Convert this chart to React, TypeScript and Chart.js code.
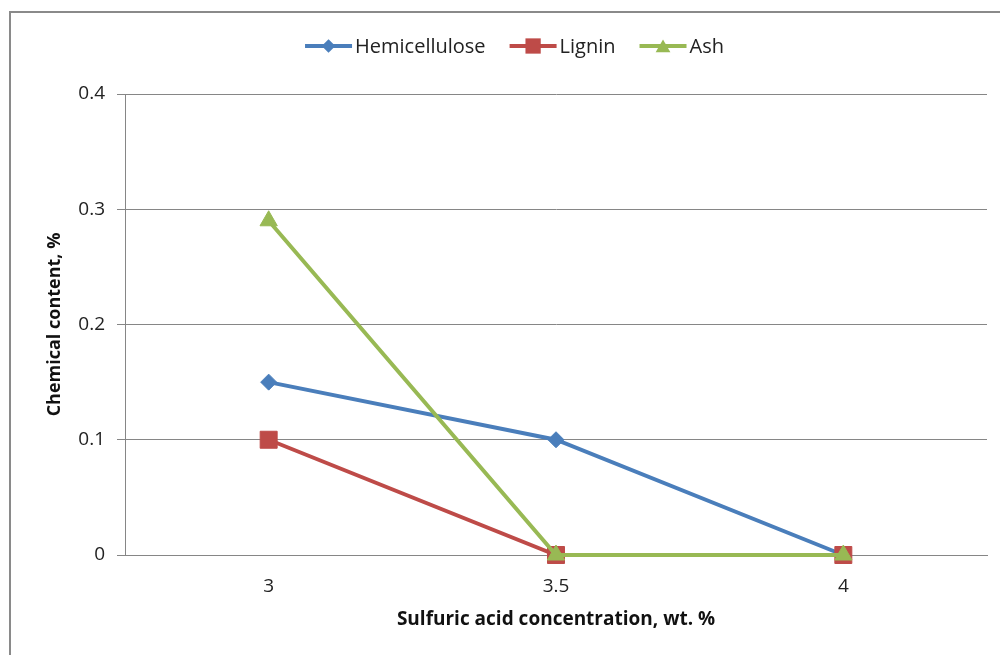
import React, { useEffect, useRef } from "react";
import { Chart, registerables } from "chart.js";

Chart.register(...registerables);

const categories = ["3", "3.5", "4"];
const hemicellulose = [0.15, 0.1, 0];
const lignin = [0.1, 0, 0];
const ash = [0.29, 0, 0];
const yTickValues = [0, 0.1, 0.2, 0.3, 0.4];
const yTickLabels = ["0", "0.1", "0.2", "0.3", "0.4"];
const seriesNames = ["Hemicellulose", "Lignin", "Ash"];

const FONT = "'Open Sans', 'Liberation Sans', sans-serif";
const BLUE = "#4A7EBB";
const RED = "#BE4B48";
const GREEN = "#98B954";

const framePlugin = {
  id: "frame",
  beforeDraw(chart: any) {
    const ctx = chart.ctx;
    ctx.save();
    ctx.strokeStyle = "#8a8a8a";
    ctx.lineWidth = 2;
    ctx.beginPath();
    ctx.moveTo(10, 655);
    ctx.lineTo(10, 12);
    ctx.lineTo(1000, 12);
    ctx.stroke();
    ctx.restore();
  },
};

function drawMarker(ctx: CanvasRenderingContext2D, style: string, r: number, x: number, y: number) {
  ctx.beginPath();
  if (style === "rectRot") {
    ctx.moveTo(x, y - r);
    ctx.lineTo(x + r, y);
    ctx.lineTo(x, y + r);
    ctx.lineTo(x - r, y);
    ctx.closePath();
  } else if (style === "rect") {
    const s = Math.SQRT1_2 * r;
    ctx.rect(x - s, y - s, 2 * s, 2 * s);
  } else if (style === "triangle") {
    ctx.moveTo(x, y - r);
    ctx.lineTo(x + Math.sin((2 * Math.PI) / 3) * r, y + r / 2);
    ctx.lineTo(x - Math.sin((2 * Math.PI) / 3) * r, y + r / 2);
    ctx.closePath();
  }
  ctx.fill();
}

const legendPlugin = {
  id: "customLegend",
  afterDraw(chart: any) {
    const ctx = chart.ctx;
    ctx.save();
    ctx.font = `20px ${FONT}`;
    const lineLen = 47;
    const gap = 3;
    const spacing = 24;
    const ds = chart.data.datasets;
    const widths = ds.map((d: any) => lineLen + gap + ctx.measureText(d.label).width);
    const total = widths.reduce((a: number, b: number) => a + b, 0) + spacing * (ds.length - 1);
    let x = 514.5 - total / 2;
    const y = 46;
    ds.forEach((d: any, i: number) => {
      ctx.strokeStyle = d.borderColor;
      ctx.lineWidth = 4;
      ctx.beginPath();
      ctx.moveTo(x, y);
      ctx.lineTo(x + lineLen, y);
      ctx.stroke();
      ctx.fillStyle = d.pointBackgroundColor;
      const lr = d.pointStyle === "rect" ? d.pointRadius * 0.9 : d.pointRadius * 0.85;
      drawMarker(ctx, d.pointStyle, lr, x + lineLen / 2, d.pointStyle === "triangle" ? y + 2 : y);
      ctx.fillStyle = "#222";
      ctx.textBaseline = "middle";
      ctx.textAlign = "left";
      ctx.fillText(d.label, x + lineLen + gap, y + 1);
      x += widths[i] + spacing;
    });
    ctx.restore();
  },
};

export default function App() {
  const ref = useRef<HTMLCanvasElement>(null);
  useEffect(() => {
    const mk = (label: string, data: number[], color: string, style: string, r: number, order: number) => ({
      label,
      data,
      borderColor: color,
      backgroundColor: color,
      pointBackgroundColor: color,
      pointBorderColor: color,
      pointBorderWidth: 1,
      pointStyle: style,
      pointRadius: r,
      borderWidth: 4,
      order,
      tension: 0,
      clip: false,
    });
    const chart = new Chart(ref.current!, {
      type: "line",
      data: {
        labels: categories,
        datasets: [
          mk(seriesNames[0], hemicellulose, BLUE, "rectRot", 8, 3),
          mk(seriesNames[1], lignin, RED, "rect", 12, 2),
          mk(seriesNames[2], ash, GREEN, "triangle", 10, 1),
        ],
      },
      options: {
        animation: false,
        responsive: true,
        maintainAspectRatio: false,
        layout: { padding: { left: 0, top: 94, right: 13, bottom: 0 } },
        plugins: { legend: { display: false }, tooltip: { enabled: false }, title: { display: false } },
        scales: {
          x: {
            type: "category",
            offset: true,
            grid: { display: false, drawTicks: false },
            border: { display: true, color: "#868686", width: 1 },
            ticks: { padding: 20, color: "#222", font: { family: FONT, size: 19 } },
            title: {
              display: true,
              text: "Sulfuric acid concentration, wt. %",
              color: "#111",
              font: { family: FONT, size: 19, weight: "bold" },
              padding: { top: 24, bottom: 24 },
            },
            afterFit(scale: any) {
              scale.height = 100;
            },
          },
          y: {
            min: 0,
            max: 0.4,
            grid: { color: "#868686", lineWidth: 1, drawTicks: true, tickLength: 8 },
            border: { display: true, color: "#868686", width: 1 },
            afterBuildTicks(scale: any) {
              scale.ticks = yTickValues.map((v) => ({ value: v }));
            },
            ticks: {
              padding: 12,
              color: "#222",
              font: { family: FONT, size: 19 },
              callback: (v: any) => {
                const i = yTickValues.findIndex((t) => Math.abs(t - Number(v)) < 1e-9);
                return i >= 0 ? yTickLabels[i] : "";
              },
            },
            title: {
              display: true,
              text: "Chemical content, %",
              color: "#111",
              font: { family: FONT, size: 18, weight: "bold" },
              padding: { top: 44, bottom: 44 },
            },
            afterFit(scale: any) {
              scale.width = 125;
            },
          },
        },
      } as any,
      plugins: [framePlugin, legendPlugin],
    });
    return () => chart.destroy();
  }, []);
  return (
    <div style={{ position: "fixed", left: 0, top: 0, width: 1000, height: 655, background: "#fff" }}>
      <canvas ref={ref} />
    </div>
  );
}
